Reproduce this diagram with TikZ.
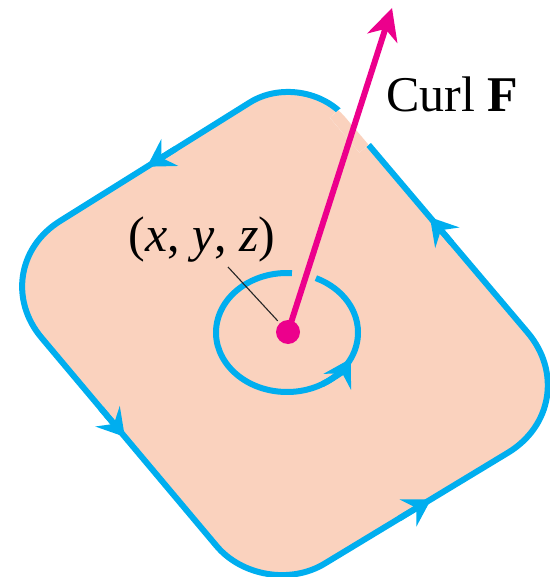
\documentclass[tikz,border=0pt]{standalone}
\usepackage{fontspec}
\setmainfont{Liberation Serif}
\usetikzlibrary{arrows.meta,calc}
\definecolor{peach}{RGB}{250,210,190}
\definecolor{cyanb}{RGB}{0,174,239}
\definecolor{magp}{RGB}{236,0,140}
\tikzset{
  edgeline/.style={draw=cyanb, line width=6pt},
  barb/.style={draw=cyanb, line width=6pt, -{Stealth[length=27pt,width=32pt,inset=10pt,line width=0pt]}},
  parrow/.style={draw=magp, line width=6pt, -{Stealth[length=32pt,width=32pt,inset=10pt,line width=0pt]}},
  dotn/.style={circle, fill=magp, minimum size=24pt, inner sep=0pt},
  leader/.style={draw=black!85, line width=1.1pt, shorten >=3pt},
  big/.style={inner sep=0pt, font=\fontsize{50}{60}\selectfont},
}
\newcommand\myoutline{(T1) .. controls ($(T1)!0.55!(T)$) and ($(T2)!0.55!(T)$) .. (T2) -- (R1) .. controls ($(R1)!0.55!(R)$) and ($(R2)!0.55!(R)$) .. (R2) -- (B1) .. controls ($(B1)!0.55!(B)$) and ($(B2)!0.55!(B)$) .. (B2) -- (L1) .. controls ($(L1)!0.55!(L)$) and ($(L2)!0.55!(L)$) .. (L2) -- cycle}
\begin{document}
\begin{tikzpicture}[x=1pt,y=-1pt]
\useasboundingbox (0,0) rectangle (549,577);
% sharp corners of the parallelogram
\coordinate (T) at (304,68.6);
\coordinate (R) at (588.3,404.1);
\coordinate (B) at (262.8,601);
\coordinate (L) at (-16.4,268.8);
% rounding points
\coordinate (T1) at ($(T)!64pt!(L)$);
\coordinate (T2) at ($(T)!64pt!(R)$);
\coordinate (R1) at ($(R)!94pt!(T)$);
\coordinate (R2) at ($(R)!94pt!(B)$);
\coordinate (B1) at ($(B)!72pt!(R)$);
\coordinate (B2) at ($(B)!72pt!(L)$);
\coordinate (L1) at ($(L)!90pt!(B)$);
\coordinate (L2) at ($(L)!90pt!(T)$);
% surface
\fill[peach] \myoutline;
\draw[edgeline] \myoutline;
% gap in the boundary where the arrow passes
\coordinate (gA) at ($(T)!0.123!(R)$);
\coordinate (gB) at ($(T)!0.227!(R)$);
\begin{scope}
  \clip ($(gA)!12pt!90:(gB)$) -- ($(gB)!12pt!-90:(gA)$) -- ($(gB)!12pt!90:(gA)$) -- ($(gA)!12pt!-90:(gB)$) -- cycle;
  \fill[white] (gA) circle[radius=60];
  \fill[peach] \myoutline;
\end{scope}
% direction arrows on the boundary
\draw[barb] ($(T)!0.40!(L)$) -- ($(T)!0.49!(L)$);
\draw[barb] ($(L)!0.42!(B)$) -- ($(L)!0.506!(B)$);
\draw[barb] ($(B)!0.42!(R)$) -- ($(B)!0.517!(R)$);
\draw[barb] ($(R)!0.48!(T)$) -- ($(R)!0.557!(T)$);
% small loop
\coordinate (C) at (287,332.5);
\draw[edgeline] ($(C)+(-86:71 and 59.5)$) arc[start angle=-86, end angle=-426, x radius=71, y radius=59.5];
\draw[barb] ($(C)+(-300:71 and 59.5)$) arc[start angle=-300, end angle=-334, x radius=71, y radius=59.5];
% point, curl vector
\node[dotn] (dot) at (288,332) {};
\coordinate (ptip) at (392,8);
\draw[parrow] (dot.center) -- (ptip);
% labels
\node[big, anchor=base] (pt) at (202,251) {(\textit{x}, \textit{y}, \textit{z})};
\coordinate (lead) at (228,267);
\draw[leader] (lead) -- (dot);
\node[big, anchor=base west] (curl) at (386,112) {Curl \textbf{F}};
\end{tikzpicture}
\end{document}
